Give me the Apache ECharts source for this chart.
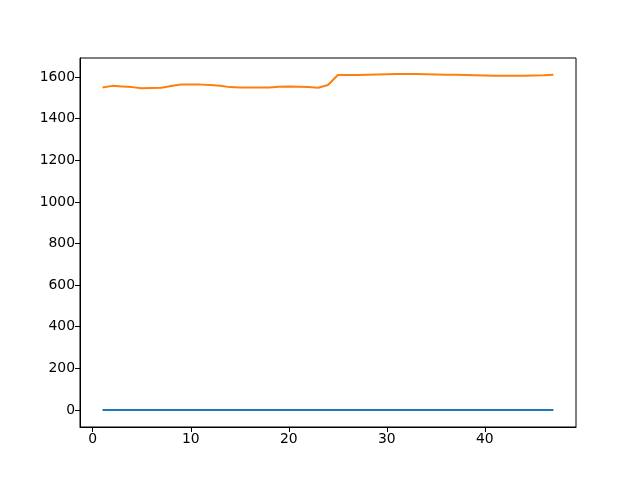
<!DOCTYPE html>
<html>
<head>
<meta charset="utf-8">
<script src="https://cdn.jsdelivr.net/npm/echarts@6/dist/echarts.min.js"></script>
<style>
  html, body { margin: 0; padding: 0; background: #fff; }
  #chart { width: 640px; height: 480px; }
</style>
</head>
<body>
<div id="chart"></div>
<script>
// x positions 1..47
const xValues = [];
for (let i = 1; i <= 47; i++) xValues.push(i);

// blue series sits on zero
const blueValues = [0,0,0,0,0,0,0,0,0,0,0,0,0,0,0,0,0,0,0,0,0,0,0,0,0,0,0,0,0,0,0,0,0,0,0,0,0,0,0,0,0,0,0,0,0,0,0];

// orange series
const orangeValues = [
  1550, 1558, 1555, 1552, 1547, 1548, 1549, 1557, 1565, 1565,
  1564, 1562, 1559, 1552, 1550, 1550, 1550, 1550, 1554, 1555,
  1554, 1552, 1549, 1562, 1610, 1610, 1610, 1612, 1613, 1614,
  1615, 1615, 1615, 1614, 1613, 1612, 1611, 1610, 1609, 1608,
  1607, 1607, 1607, 1607, 1608, 1609, 1611
];

const xTicks = [0, 10, 20, 30, 40];
const yTicks = [0, 200, 400, 600, 800, 1000, 1200, 1400, 1600];

const chart = echarts.init(document.getElementById('chart'));

const labelFont = {
  color: '#000',
  fontFamily: 'DejaVu Sans',
  fontSize: 13.9,
  formatter: function (v) { return String(v); }
};

const option = {
  animation: false,
  grid: {
    left: 80,
    right: 64,
    top: 58,
    bottom: 53,
    show: true,
    borderColor: '#000',
    borderWidth: 1,
    backgroundColor: '#fff'
  },
  xAxis: {
    type: 'value',
    min: -1.3,
    max: 49.3,
    splitLine: { show: false },
    axisLine: { show: true, onZero: false, lineStyle: { color: '#000', width: 1 } },
    axisTick: { show: true, length: 5, customValues: xTicks, lineStyle: { color: '#000', width: 1 } },
    axisLabel: Object.assign({ customValues: xTicks, margin: 5 }, labelFont)
  },
  yAxis: {
    type: 'value',
    min: -82,
    max: 1692,
    splitLine: { show: false },
    axisLine: { show: true, onZero: false, lineStyle: { color: '#000', width: 1 } },
    axisTick: { show: true, length: 5, customValues: yTicks, lineStyle: { color: '#000', width: 1 } },
    axisLabel: Object.assign({ customValues: yTicks, margin: 5 }, labelFont)
  },
  series: [
    {
      name: 'blue',
      type: 'line',
      showSymbol: false,
      lineStyle: { color: '#1f77b4', width: 2 },
      itemStyle: { color: '#1f77b4' },
      data: xValues.map((x, i) => [x, blueValues[i]])
    },
    {
      name: 'orange',
      type: 'line',
      showSymbol: false,
      lineStyle: { color: '#ff7f0e', width: 2 },
      itemStyle: { color: '#ff7f0e' },
      data: xValues.map((x, i) => [x, orangeValues[i]])
    }
  ]
};

chart.setOption(option);
</script>
</body>
</html>
